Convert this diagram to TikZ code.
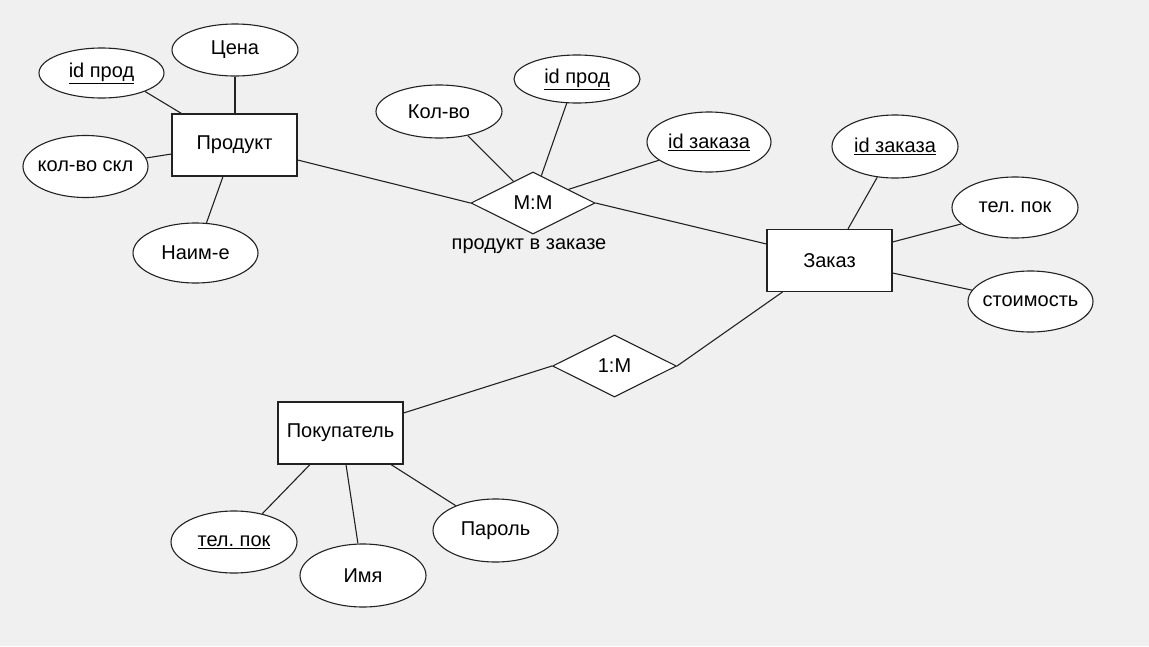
\documentclass[tikz,border=0pt]{standalone}
\usepackage{fontspec}
\setmainfont{Liberation Sans}
\usetikzlibrary{shapes.geometric}
\definecolor{bg}{HTML}{F0F0F0}
\definecolor{ln}{HTML}{222222}
\frenchspacing
\begin{document}
\begin{tikzpicture}[x=1pt,y=-1pt, font=\fontsize{20}{24}\selectfont,
 ent/.style={draw=ln, fill=white, line width=1.1pt, minimum width=125pt, minimum height=62pt, inner sep=0pt},
 attr/.style={ellipse, draw=ln, fill=white, line width=1.1pt, inner sep=0pt, minimum width=125pt, minimum height=62pt},
 rel/.style={diamond, draw=ln, fill=white, line width=1.1pt, inner sep=0pt, minimum width=124pt, minimum height=62pt},
 conn/.style={draw=ln, line width=1.1pt}]
\fill[bg] (0,0) rectangle (1149,646);
\useasboundingbox (0,0) rectangle (1149,646);

% entities
\node[ent] (prod) at (234.5,145) {Продукт};
\node[ent] (zak) at (829.5,260.5) {Заказ};
\node[ent] (pok) at (340.5,433) {Покупатель};

% relations
\node[rel] (mm) at (533,203) {М:М};
\node (mmlab) at (529,246) {продукт в заказе};
\node[rel] (om) at (614.5,366) {1:М};

% attributes
\node[attr, minimum height=50pt] (idp1) at (101.5,73) {\underline{id прод}};
\node[attr, minimum width=126pt, minimum height=52pt] (cena) at (235,50) {Цена};
\node[attr, inner xsep=-12pt] (kskl) at (85.5,166.5) {кол-во скл};
\node[attr, minimum height=60pt] (naim) at (195.5,253) {Наим-е};
\node[attr, minimum width=126pt, minimum height=53pt] (kolvo) at (439,111.5) {Кол-во};
\node[attr, minimum width=126pt, minimum height=48pt] (idp2) at (577,79) {\underline{id прод}};
\node[attr, minimum width=124pt, minimum height=60pt, inner xsep=-4pt] (idz1) at (709,142) {\underline{id заказа}};
\node[attr, minimum width=126pt, minimum height=63pt, inner xsep=-4pt] (idz2) at (895,146.5) {\underline{id заказа}};
\node[attr, minimum width=126pt, minimum height=61pt] (tel1) at (1015,207.5) {тел. пок};
\node[attr, minimum height=61pt, inner xsep=-4pt] (stoim) at (1030.5,301.5) {стоимость};
\node[attr, minimum width=126pt] (tel2) at (234,542) {\underline{тел. пок}};
\node[attr, minimum width=126pt, minimum height=63pt] (imya) at (363,575.5) {Имя};
\node[attr, minimum height=63pt] (parol) at (495.5,530.5) {Пароль};

% connectors: Продукт
\path[conn] (idp1.-23) -- ([xshift=10pt]prod.north west);
\path[conn] (cena.south) -- (cena.south |- prod.north);
\path[conn] (kskl.8) -- ([yshift=-9pt]prod.west);
\path[conn] (naim.70) -- ([xshift=-11.5pt]prod.south);
\path[conn] ([yshift=-15pt]prod.east) -- (mm.west);

% connectors: М:М
\path[conn] (kolvo.-40) -- (mm.132);
\path[conn] (idp2.-113) -- (mm.73);
\path[conn] (idz1.200) -- (mm.21);
\path[conn] (mm.east) -- ([yshift=16.5pt]zak.west);

% connectors: Заказ
\path[conn] (idz2.-120) -- ([xshift=18.5pt]zak.north);
\path[conn] (tel1.197) -- ([yshift=18.5pt]zak.east);
\path[conn] (stoim.169) -- ([yshift=-12.5pt]zak.east);
\path[conn] ([xshift=16pt]zak.south west) -- (om.east);

% connectors: Покупатель
\path[conn] ([yshift=20pt]pok.east) -- (om.west);
\path[conn] (tel2.45) -- ([xshift=-30.5pt]pok.south);
\path[conn] (imya.99) -- ([xshift=5.5pt]pok.south);
\path[conn] (parol.148) -- ([xshift=50.5pt]pok.south);
\end{tikzpicture}
\end{document}
